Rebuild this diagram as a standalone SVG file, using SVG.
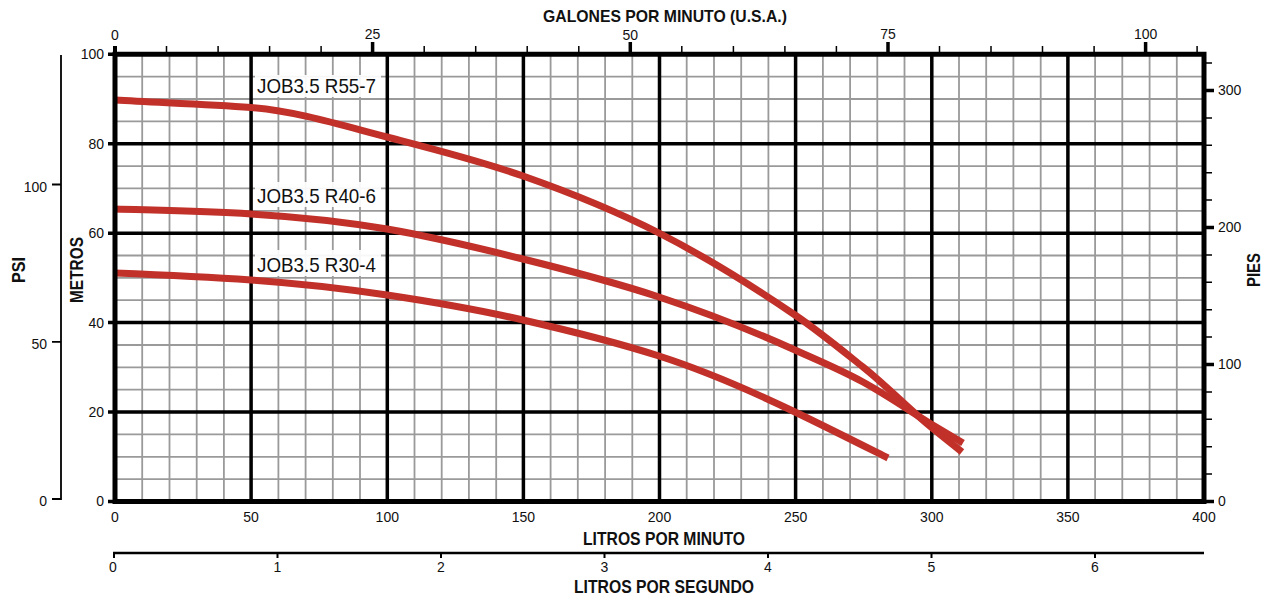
<svg xmlns="http://www.w3.org/2000/svg" width="1267" height="600" viewBox="0 0 1267 600">
<style>
text{font-family:"Liberation Sans",Arial,sans-serif;fill:#111}
.n{font-size:14px}
.m{text-anchor:middle}
.e{text-anchor:end}
.b{font-size:18px;font-weight:bold;text-anchor:middle}
.lab{font-size:21px}
.minor{stroke:#9a9a9a;stroke-width:1.8;fill:none}
.major{stroke:#000;stroke-width:3.5;fill:none}
.tk{stroke:#000;fill:none}
.curve{stroke:#c1312a;stroke-width:7;fill:none;stroke-linecap:butt;stroke-linejoin:round}
.bg{fill:#fff;fill-opacity:0.92}
</style>
<rect width="1267" height="600" fill="#fff"/>
<g id="grid">
<path class="minor" d="M142.2 54.25V501.5M169.5 54.25V501.5M196.7 54.25V501.5M223.9 54.25V501.5M278.4 54.25V501.5M305.6 54.25V501.5M332.8 54.25V501.5M360 54.25V501.5M414.5 54.25V501.5M441.7 54.25V501.5M468.9 54.25V501.5M496.2 54.25V501.5M550.6 54.25V501.5M577.8 54.25V501.5M605.1 54.25V501.5M632.3 54.25V501.5M686.7 54.25V501.5M714 54.25V501.5M741.2 54.25V501.5M768.4 54.25V501.5M822.9 54.25V501.5M850.1 54.25V501.5M877.3 54.25V501.5M904.5 54.25V501.5M959 54.25V501.5M986.2 54.25V501.5M1013.4 54.25V501.5M1040.7 54.25V501.5M1095.1 54.25V501.5M1122.3 54.25V501.5M1149.6 54.25V501.5M1176.8 54.25V501.5"/>
<path class="minor" d="M115 479.1H1204M115 456.8H1204M115 434.4H1204M115 389.7H1204M115 367.3H1204M115 345H1204M115 300.2H1204M115 277.9H1204M115 255.5H1204M115 210.8H1204M115 188.4H1204M115 166.1H1204M115 121.3H1204M115 99H1204M115 76.6H1204"/>
<path class="major" d="M251.1 54.25V501.5M387.3 54.25V501.5M523.4 54.25V501.5M659.5 54.25V501.5M795.6 54.25V501.5M931.8 54.25V501.5M1067.9 54.25V501.5M115 412.05H1204M115 322.6H1204M115 233.15H1204M115 143.7H1204"/>
</g>
<g id="labels-bg">
<rect class="bg" x="255" y="75" width="126" height="22"/>
<rect class="bg" x="255" y="182" width="126" height="25"/>
<rect class="bg" x="255" y="250" width="126" height="26"/>
</g>
<g id="curve-labels">
<text class="lab" x="257" y="93" textLength="119" lengthAdjust="spacingAndGlyphs">JOB3.5 R55-7</text>
<text class="lab" x="257" y="203" textLength="119" lengthAdjust="spacingAndGlyphs">JOB3.5 R40-6</text>
<text class="lab" x="257" y="272" textLength="119" lengthAdjust="spacingAndGlyphs">JOB3.5 R30-4</text>
</g>
<g id="connectors">
<path id="c-r55" class="curve" d="M115,100 C160.3,102.7 205.7,103.9 251,107.5 C296.3,111.1 341.7,125.2 387,137 C432.3,148.8 477.7,160.1 523,176 C568.3,191.9 613.7,209.9 659,233 C704.3,256.1 749.7,284.2 795,315 C817.7,330.4 840.3,348.9 863,367 C885.7,385.1 908.3,408.4 931,427 C941.3,435.5 951.7,443.7 962,452"/>
<path id="c-r40" class="curve" d="M115,209 C160.3,210.4 205.7,211.3 251,214 C296.3,216.7 341.7,221.3 387,229 C432.3,236.7 477.7,247.7 523,259 C568.3,270.3 613.7,282 659,297 C704.3,312 749.7,329.6 795,350 C817.7,360.2 840.3,369.5 863,382 C885.7,394.5 908.3,410 931,424 C941.7,430.4 952.3,436.6 963,443"/>
<path id="c-r30" class="curve" d="M115,273 C160.3,274.8 205.7,276.8 251,280 C296.3,283.2 341.7,288.2 387,295 C432.3,301.8 477.7,309.6 523,320 C568.3,330.4 613.7,341.5 659,356 C704.3,370.5 749.7,390.2 795,412 C826,426.9 857,442.5 888,458"/>
</g>
<g id="frame">
<rect x="115" y="54.25" width="1089" height="447.25" fill="none" stroke="#000" stroke-width="5"/>
<path class="tk" stroke-width="4" d="M115 46V54"/>
</g>
<g id="axis-top">
<path class="tk" stroke-width="1.5" d="M166.5 46V54M218.1 46V54M269.6 46V54M321.1 46V54M424.2 46V54M475.7 46V54M527.2 46V54M578.8 46V54M681.8 46V54M733.4 46V54M784.9 46V54M836.4 46V54M939.5 46V54M991 46V54M1042.5 46V54M1094.1 46V54M1197.1 46V54"/>
<path class="tk" stroke-width="3.5" d="M372.6 42V54M630.3 42V54M888 42V54M1145.6 42V54"/>
<text class="n m" x="115" y="40">0</text>
<text class="n m" x="372.6" y="39">25</text>
<text class="n m" x="630.3" y="40">50</text>
<text class="n m" x="888" y="39">75</text>
<text class="n m" x="1145.6" y="39">100</text>
<text class="b" x="665" y="22" style="font-size:17px" textLength="244" lengthAdjust="spacingAndGlyphs">GALONES POR MINUTO (U.S.A.)</text>
</g>
<g id="axis-metros">
<path class="tk" stroke-width="3.5" d="M108 54.25H113M108 143.7H113M108 233.15H113M108 322.6H113M108 412.05H113M108 501.5H113"/>
<text class="n e" x="104" y="59">100</text>
<text class="n e" x="104" y="149">80</text>
<text class="n e" x="104" y="238">60</text>
<text class="n e" x="104" y="327.5">40</text>
<text class="n e" x="104" y="417">20</text>
<text class="n e" x="104" y="506">0</text>
<text class="b" x="83" y="270" transform="rotate(-90 83 270)" textLength="66" lengthAdjust="spacingAndGlyphs">METROS</text>
</g>
<g id="axis-psi">
<path class="tk" stroke-width="1.8" d="M52 184.5H61V55M52 341.8H61M52 499H61V184"/>
<text class="n e" x="47" y="192">100</text>
<text class="n e" x="47" y="349">50</text>
<text class="n e" x="47" y="506">0</text>
<text class="b" x="25" y="270" transform="rotate(-90 25 270)" textLength="26" lengthAdjust="spacingAndGlyphs">PSI</text>
</g>
<g id="axis-pies">
<path class="tk" stroke-width="1.5" d="M1206 474.1H1212M1206 446.7H1212M1206 419.3H1212M1206 391.9H1212M1206 337.1H1212M1206 309.7H1212M1206 282.3H1212M1206 254.9H1212M1206 200.1H1212M1206 172.7H1212M1206 145.3H1212M1206 117.9H1212M1206 63.1H1212"/>
<path class="tk" stroke-width="3.5" d="M1206 501.5H1214M1206 364.5H1214M1206 227.5H1214M1206 90.5H1214"/>
<text class="n" x="1218" y="506">0</text>
<text class="n" x="1218" y="369">100</text>
<text class="n" x="1218" y="232">200</text>
<text class="n" x="1218" y="95">300</text>
<text class="b" x="1260" y="270" transform="rotate(-90 1260 270)" textLength="34" lengthAdjust="spacingAndGlyphs">PIES</text>
</g>
<g id="axis-lpm">
<text class="n m" x="115" y="522">0</text>
<text class="n m" x="251.1" y="522">50</text>
<text class="n m" x="387.3" y="522">100</text>
<text class="n m" x="523.4" y="522">150</text>
<text class="n m" x="659.5" y="522">200</text>
<text class="n m" x="795.6" y="522">250</text>
<text class="n m" x="931.8" y="522">300</text>
<text class="n m" x="1067.9" y="522">350</text>
<text class="n m" x="1204" y="522">400</text>
<text class="b" x="664" y="545" textLength="162" lengthAdjust="spacingAndGlyphs">LITROS POR MINUTO</text>
</g>
<g id="axis-lps">
<path class="tk" stroke-width="2.5" d="M113 553H1204"/>
<path class="tk" stroke-width="2" d="M114 552V558M277.5 552V558M441 552V558M604.5 552V558M768 552V558M931.5 552V558M1095 552V558"/>
<text class="n m" x="113" y="572">0</text>
<text class="n m" x="277.5" y="572">1</text>
<text class="n m" x="441" y="572">2</text>
<text class="n m" x="604.5" y="572">3</text>
<text class="n m" x="768" y="572">4</text>
<text class="n m" x="931.5" y="572">5</text>
<text class="n m" x="1095" y="572">6</text>
<text class="b" x="664" y="593" textLength="180" lengthAdjust="spacingAndGlyphs">LITROS POR SEGUNDO</text>
</g>
</svg>
